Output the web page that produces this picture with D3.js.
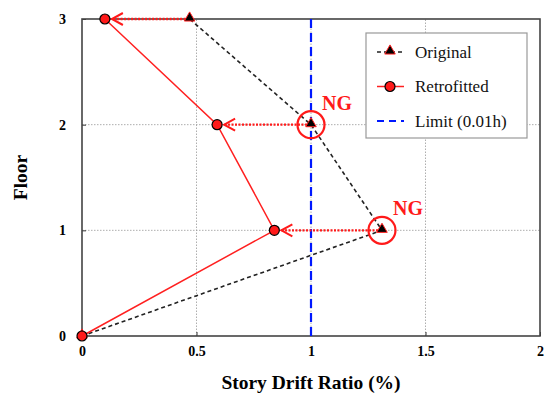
<!DOCTYPE html>
<html>
<head>
<meta charset="utf-8">
<script src="https://cdn.jsdelivr.net/npm/d3@7"></script>
<style>
  body { margin: 0; background: #fff; }
</style>
</head>
<body>
<div class="chart"></div>
<script>
// data
const floors = [0, 1, 2, 3];
const original = [0, 1.31, 1.0, 0.47];
const retrofitted = [0, 0.84, 0.59, 0.1];
const limit = 1.0;
const xTicks = [0, 0.5, 1, 1.5, 2];
const yTicks = [0, 1, 2, 3];
const ngFloors = [2, 1];

const width = 545, height = 400;
const m = { left: 82, right: 5, top: 19, bottom: 64 };
const serif = "'Liberation Serif', 'Times New Roman', serif";

const svg = d3.select(".chart").append("svg")
  .attr("width", width).attr("height", height)
  .attr("font-family", serif);

const x = d3.scaleLinear().domain([0, 2]).range([m.left, width - m.right]);
const y = d3.scaleLinear().domain([0, 3]).range([height - m.bottom, m.top]);

// grid
svg.append("g").selectAll("line")
  .data([0.5, 1, 1.5]).join("line")
  .attr("x1", d => x(d)).attr("x2", d => x(d))
  .attr("y1", y(0)).attr("y2", y(3))
  .attr("stroke", "#999").attr("stroke-width", 0.8).attr("stroke-dasharray", "1.5,1.5");
svg.append("g").selectAll("line")
  .data([1, 2]).join("line")
  .attr("x1", x(0)).attr("x2", x(2))
  .attr("y1", d => y(d)).attr("y2", d => y(d))
  .attr("stroke", "#999").attr("stroke-width", 0.8).attr("stroke-dasharray", "1.5,1.5");

// axes
const xAxis = svg.append("g")
  .attr("transform", `translate(0,${y(0)})`)
  .call(d3.axisBottom(x).tickValues(xTicks).tickSizeInner(-4).tickSizeOuter(0).tickPadding(10).tickFormat(d3.format("")));
const yAxis = svg.append("g")
  .attr("transform", `translate(${x(0)},0)`)
  .call(d3.axisLeft(y).tickValues(yTicks).tickSizeInner(-4).tickSizeOuter(0).tickPadding(16).tickFormat(d3.format("d")));
[xAxis, yAxis].forEach(g => {
  g.attr("font-family", serif);
  g.selectAll(".domain").remove();
  g.selectAll(".tick line").attr("stroke", "#333");
  g.selectAll(".tick text").attr("font-size", 14).attr("font-weight", "bold").attr("fill", "#000");
});

// frame
svg.append("rect")
  .attr("x", x(0)).attr("y", y(3))
  .attr("width", x(2) - x(0)).attr("height", y(0) - y(3))
  .attr("fill", "none").attr("stroke", "#444").attr("stroke-width", 1.6);

// limit line
svg.append("line")
  .attr("x1", x(limit)).attr("x2", x(limit))
  .attr("y1", y(0)).attr("y2", y(3))
  .attr("stroke", "#0018ff").attr("stroke-width", 2.2).attr("stroke-dasharray", "9,5");

const line = d3.line().x(d => x(d[0])).y(d => y(d[1]));
const origPts = floors.map((f, i) => [original[i], f]);
const retroPts = floors.map((f, i) => [retrofitted[i], f]);

svg.append("path").attr("d", line(origPts))
  .attr("fill", "none").attr("stroke", "#222").attr("stroke-width", 1.6).attr("stroke-dasharray", "4,3");
svg.append("path").attr("d", line(retroPts))
  .attr("fill", "none").attr("stroke", "#ff2020").attr("stroke-width", 1.5);

// arrows from original to retrofitted
floors.slice(1).forEach((f, k) => {
  const i = k + 1;
  const x0 = x(original[i]) - 4, x1 = x(retrofitted[i]) + 7;
  const yy = y(f);
  svg.append("line").attr("x1", x0).attr("x2", x1).attr("y1", yy).attr("y2", yy)
    .attr("stroke", "#ff1a1a").attr("stroke-width", 2.4).attr("stroke-dasharray", "2,1.5");
  svg.append("path")
    .attr("d", `M${x1 + 11},${yy - 6} L${x1},${yy} L${x1 + 11},${yy + 6}`)
    .attr("fill", "none").attr("stroke", "#ff1a1a").attr("stroke-width", 2);
});

// markers
const tri = d3.symbol().type(d3.symbolTriangle).size(48);
svg.append("g").selectAll("path")
  .data(origPts).join("path")
  .attr("d", tri)
  .attr("transform", d => `translate(${x(d[0])},${y(d[1]) - 1})`)
  .attr("fill", "#000").attr("stroke", "#ff2020").attr("stroke-width", 1);
svg.append("g").selectAll("circle")
  .data(retroPts).join("circle")
  .attr("cx", d => x(d[0])).attr("cy", d => y(d[1])).attr("r", 5)
  .attr("fill", "#ff1a1a").attr("stroke", "#000").attr("stroke-width", 1.2);

// NG marks
ngFloors.forEach(f => {
  const v = original[floors.indexOf(f)];
  svg.append("circle")
    .attr("cx", x(v)).attr("cy", y(f)).attr("r", 13.5)
    .attr("fill", "none").attr("stroke", "#ff1a1a").attr("stroke-width", 2.2);
  svg.append("text")
    .attr("x", x(v) + 11).attr("y", y(f) - 15)
    .attr("font-size", 20).attr("font-weight", "bold").attr("fill", "#ff1a1a")
    .text("NG");
});

// legend
const lg = svg.append("g").attr("transform", "translate(366,33)");
lg.append("rect").attr("width", 161).attr("height", 105)
  .attr("fill", "#fff").attr("stroke", "#999").attr("stroke-width", 1.2);
const items = [
  { label: "Original", stroke: "#222", dash: "4,3", marker: "tri" },
  { label: "Retrofitted", stroke: "#ff2020", dash: null, marker: "circ" },
  { label: "Limit (0.01h)", stroke: "#0018ff", dash: "7,5", marker: null }
];
items.forEach((it, i) => {
  const yy = 19 + i * 34.5;
  lg.append("line").attr("x1", 11).attr("x2", 38).attr("y1", yy).attr("y2", yy)
    .attr("stroke", it.stroke).attr("stroke-width", it.marker === null ? 2.2 : 1.5)
    .attr("stroke-dasharray", it.dash);
  if (it.marker === "tri") {
    lg.append("path").attr("d", tri).attr("transform", `translate(24,${yy - 1})`)
      .attr("fill", "#000").attr("stroke", "#ff2020").attr("stroke-width", 1);
  } else if (it.marker === "circ") {
    lg.append("circle").attr("cx", 24).attr("cy", yy).attr("r", 5)
      .attr("fill", "#ff1a1a").attr("stroke", "#000").attr("stroke-width", 1.2);
  }
  lg.append("text").attr("x", 49).attr("y", yy + 5.5)
    .attr("font-size", 17).attr("fill", "#111").text(it.label);
});

// axis titles
svg.append("text")
  .attr("x", (x(0) + x(2)) / 2).attr("y", 389)
  .attr("text-anchor", "middle").attr("font-size", 19.5).attr("font-weight", "bold")
  .text("Story Drift Ratio (%)");
svg.append("text")
  .attr("transform", `translate(27,${(y(0) + y(3)) / 2}) rotate(-90)`)
  .attr("text-anchor", "middle").attr("font-size", 19.5).attr("font-weight", "bold")
  .text("Floor");
</script>
</body>
</html>
